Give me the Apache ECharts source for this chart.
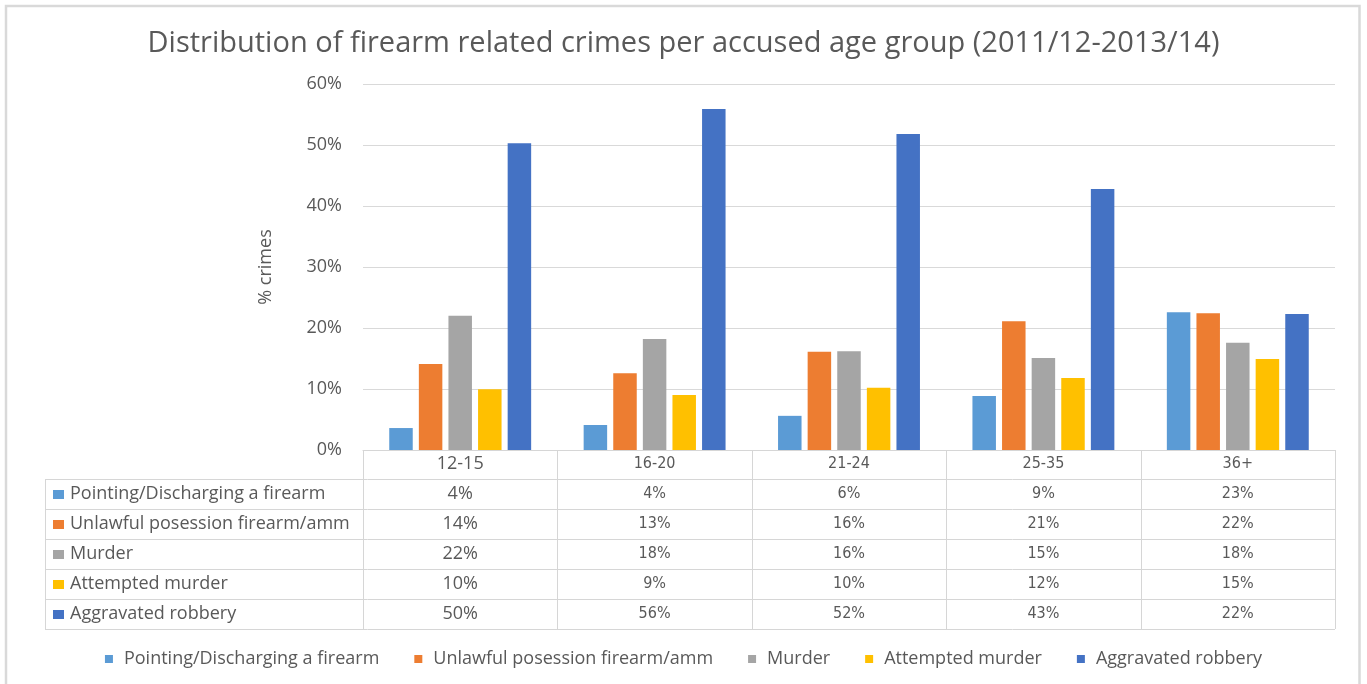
<!DOCTYPE html>
<html>
<head>
<meta charset="utf-8">
<title>Firearm related crimes per accused age group</title>
<script src="https://cdn.jsdelivr.net/npm/echarts@6/dist/echarts.min.js"></script>
<style>
  html, body { margin: 0; padding: 0; background: #ffffff; }
  #chart { width: 1367px; height: 684px; }
</style>
</head>
<body>
<div id="chart"></div>
<script>
// Age groups of the accused
const categories = ['12-15', '16-20', '21-24', '25-35', '36+'];

// Crime types (series names)
const seriesNames = [
  'Pointing/Discharging a firearm',
  'Unlawful posession firearm/amm',
  'Murder',
  'Attempted murder',
  'Aggravated robbery'
];

// Share of crimes per age group, in percent
const pointing  = [3.6, 4.1, 5.6, 8.85, 22.6];
const unlawful  = [14.1, 12.6, 16.1, 21.1, 22.4];
const murder    = [22.0, 18.2, 16.2, 15.1, 17.6];
const attempted = [9.95, 9.0, 10.2, 11.8, 14.9];
const robbery   = [50.3, 55.9, 51.8, 42.8, 22.3];

const seriesValues = [pointing, unlawful, murder, attempted, robbery];
const colors = ['#5B9BD5', '#ED7D31', '#A5A5A5', '#FFC000', '#4472C4'];

const TEXT = '#595959';
const LINE = '#d6d6d6';
const WIDE = '"Open Sans", "Noto Sans", sans-serif';
const NARROW = '"Liberation Sans Narrow", "DejaVu Sans Condensed", sans-serif';

const pct = v => Math.round(v) + '%';

const chart = echarts.init(document.getElementById('chart'), null, { renderer: 'canvas' });

const option = {
  backgroundColor: '#ffffff',
  animation: false,
  color: colors,
  title: {
    text: 'Distribution of firearm related crimes per accused age group (2011/12-2013/14)',
    left: 'center',
    top: 24,
    textStyle: { fontFamily: WIDE, fontSize: 29, fontWeight: 'normal', color: TEXT }
  },
  legend: {
    data: seriesNames,
    left: 'center',
    top: 645,
    icon: 'rect',
    itemWidth: 8,
    itemHeight: 8,
    itemGap: 35,
    textStyle: { fontFamily: WIDE, fontSize: 18, color: TEXT, padding: [0, 0, 0, 6] }
  },
  grid: { left: 363, right: 32, top: 84, bottom: 234, containLabel: false },
  xAxis: {
    type: 'category',
    data: categories,
    axisLine: { show: true, lineStyle: { color: LINE, width: 1 } },
    axisTick: { show: false },
    axisLabel: {
      margin: 14,
      verticalAlign: 'middle',
      formatter: (v, i) => (i === 0 ? '{w|' + v + '}' : '{n|' + v + '}'),
      rich: {
        w: { fontFamily: WIDE, fontSize: 18, color: TEXT },
        n: { fontFamily: NARROW, fontSize: 16, color: TEXT }
      }
    }
  },
  yAxis: {
    type: 'value',
    min: 0,
    max: 60,
    interval: 10,
    name: '% crimes',
    nameLocation: 'middle',
    nameRotate: 90,
    nameGap: 88,
    nameTextStyle: { fontFamily: WIDE, fontSize: 18, color: TEXT },
    axisLine: { show: false },
    axisTick: { show: false },
    axisLabel: { margin: 21, fontFamily: WIDE, fontSize: 18, color: TEXT, formatter: '{value}%' },
    splitLine: { lineStyle: { color: '#d9d9d9', width: 1 } }
  },
  series: seriesNames.map((name, k) => ({
    name: name,
    type: 'bar',
    data: seriesValues[k],
    barGap: '26%',
    barCategoryGap: '27%',
    itemStyle: { color: colors[k] }
  }))
};

chart.setOption(option);

// Data table under the plot, aligned with the category bands of the x axis
function buildTable() {
  const baseY = Math.round(chart.convertToPixel({ yAxisIndex: 0 }, 0));
  const centers = categories.map(c => chart.convertToPixel({ xAxisIndex: 0 }, c));
  const band = centers[1] - centers[0];
  const colLeft = Math.round(centers[0] - band / 2);
  const colRight = Math.round(centers[centers.length - 1] + band / 2);
  const tableLeft = 45;
  const headerH = 29;
  const rowH = 30;
  const rowTop = i => baseY + headerH + i * rowH;
  const tableBottom = rowTop(seriesNames.length);

  const els = [];
  const line = (x1, y1, x2, y2) => els.push({
    type: 'line', silent: true,
    shape: { x1: x1, y1: y1, x2: x2, y2: y2 },
    style: { stroke: LINE, lineWidth: 1 }
  });

  // horizontal rules
  line(colLeft, baseY + 0.5, colRight, baseY + 0.5);
  for (let i = 0; i <= seriesNames.length; i++) {
    const y = rowTop(i) + 0.5;
    line(tableLeft, y, colRight, y);
  }
  // vertical rules
  line(tableLeft + 0.5, rowTop(0), tableLeft + 0.5, tableBottom);
  for (let j = 0; j <= categories.length; j++) {
    const x = Math.round(colLeft + j * band) + 0.5;
    line(x, baseY, x, tableBottom);
  }

  // row headers: colour key + series name
  seriesNames.forEach((name, i) => {
    const cy = rowTop(i) + rowH / 2;
    els.push({
      type: 'rect', silent: true,
      shape: { x: 53, y: Math.round(cy - 4), width: 11, height: 9 },
      style: { fill: colors[i] }
    });
    els.push({
      type: 'text', silent: true,
      x: 70, y: cy,
      style: { text: name, fontFamily: WIDE, fontSize: 18, fill: TEXT, align: 'left', verticalAlign: 'middle' }
    });
    // values per age group
    seriesValues[i].forEach((v, j) => {
      els.push({
        type: 'text', silent: true,
        x: centers[j], y: cy,
        style: {
          text: pct(v),
          fontFamily: j === 0 ? WIDE : NARROW,
          fontSize: j === 0 ? 18 : 16,
          fill: TEXT, align: 'center', verticalAlign: 'middle'
        }
      });
    });
  });

  // outer frame of the chart area
  els.push({
    type: 'rect', silent: true, z: 100,
    shape: { x: 6, y: 6, width: 1353.5, height: 720 },
    style: { fill: 'none', stroke: '#d9d9d9', lineWidth: 2.5 }
  });

  chart.setOption({ graphic: els });
}

buildTable();
</script>
</body>
</html>
